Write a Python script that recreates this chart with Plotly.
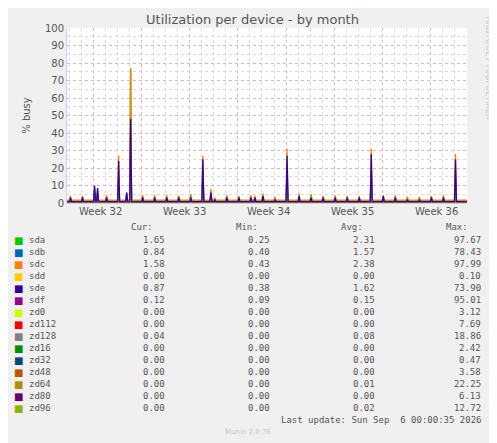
import pandas as pd
import plotly.graph_objects as go

# one spike per day, value at the daily spike (days after 2026-08-04 02:00)
sde_peak = [3, 3, 10, 3, 24, 48, 3, 3, 3, 3, 3, 25, 2, 3, 3, 3, 4, 2, 27, 4, 3, 3, 3, 3, 3, 28, 4, 3, 2, 2, 3, 3, 25]
sdc_peak = [4, 4, 9, 4.5, 27, 77, 4.5, 4.5, 4.5, 4, 4, 27, 3, 4.5, 4, 4.5, 5.5, 3.5, 31, 5.5, 4, 4, 4.5, 4, 4, 31, 4.5, 4.5, 3.5, 3.5, 4, 4.5, 28]
sda_peak = [2, 3, 8, 3, 15, 77, 3, 3, 2, 4, 5, 20, 2, 3, 2, 3, 3, 2, 20, 3, 5, 2, 3, 3, 3, 20, 3, 3, 2, 2, 3, 3, 20]
sdb_peak = [1, 2, 7, 2, 12, 40, 2, 2, 2, 2, 2, 15, 1, 2, 2, 2, 2, 1, 15, 2, 2, 2, 2, 2, 2, 15, 2, 2, 1, 1, 2, 2, 15]
# extra spikes between the daily ones
extra_day = [2.25, 4.67, 11.67, 15.33]
extra_sde = [8.5, 6, 6, 3]
extra_sdc = [8, 6, 8, 4]
extra_sda = [6, 4, 5, 3]
extra_sdb = [5, 3, 4, 2]

names = ["sda", "sdb", "sdc", "sdd", "sde", "sdf", "zd0", "zd112", "zd128", "zd16", "zd32", "zd48", "zd64", "zd80", "zd96"]
colors = ["#00CC00", "#0066B3", "#FF8000", "#FFCC00", "#330099", "#990099", "#CCFF00", "#FF0000",
          "#808080", "#008F00", "#00487D", "#B35A00", "#B38F00", "#6B006B", "#8FB300"]
cur = ["1.65", "0.84", "1.58", "0.00", "0.87", "0.12", "0.00", "0.00", "0.04", "0.00", "0.00", "0.00", "0.00", "0.00", "0.00"]
mins = ["0.25", "0.40", "0.43", "0.00", "0.38", "0.09", "0.00", "0.00", "0.00", "0.00", "0.00", "0.00", "0.00", "0.00", "0.00"]
avgs = ["2.31", "1.57", "2.38", "0.00", "1.62", "0.15", "0.00", "0.00", "0.08", "0.00", "0.00", "0.00", "0.01", "0.00", "0.02"]
maxs = ["97.67", "78.43", "97.99", "0.10", "73.90", "95.01", "3.12", "7.69", "18.86", "2.42", "0.47", "3.58", "22.25", "6.13", "12.72"]
baseline = {"sda": 1.5, "sdb": 0.5, "sdc": 1.5, "sde": 0.8}
peaks = {"sda": (sda_peak, extra_sda), "sdb": (sdb_peak, extra_sdb),
         "sdc": (sdc_peak, extra_sdc), "sde": (sde_peak, extra_sde)}

start = pd.Timestamp("2026-08-04 02:00")
x_from = pd.Timestamp("2026-08-03 19:00")
x_to = pd.Timestamp("2026-09-06 01:00")

# page adds 8px body margin, so the figure is drawn 8px smaller
W, H, OFF = 489, 435, 8
L, T, B = 67 - OFF, 28 - OFF, 240


def series(name):
    b = baseline.get(name, 0.0)
    pts = [(-0.3, b), (33.0, b)]
    if name in peaks:
        daily, extra = peaks[name]
        spikes = list(enumerate(daily)) + list(zip(extra_day, extra))
        for t, v in spikes:
            pts += [(t - 0.08, b), (t, v), (t + 0.08, b)]
    pts.sort()
    xs = [start + pd.Timedelta(days=t) for t, _ in pts]
    return xs, [v for _, v in pts]


fig = go.Figure()
order = [n for n in names if n != "sde"] + ["sde"]
for n in order:
    xs, ys = series(n)
    fig.add_trace(go.Scatter(x=xs, y=ys, mode="lines", line=dict(color=colors[names.index(n)], width=1.3),
                             showlegend=False, hoverinfo="skip"))

week_labels = ["Week 32", "Week 33", "Week 34", "Week 35", "Week 36"]
week_pos = ["2026-08-06 13:00", "2026-08-13 13:00", "2026-08-20 13:00", "2026-08-27 13:00", "2026-09-03 13:00"]

fig.update_layout(
    width=W, height=H, paper_bgcolor="#F0F0F0", plot_bgcolor="white",
    margin=dict(l=L, r=30, t=T, b=B),
    font=dict(family="DejaVu Sans", size=9, color="#555555"),
    title=dict(text="Utilization per device - by month", x=0.5, xanchor="center", yref="container",
               y=1 - 11 / H, yanchor="middle", font=dict(size=13, color="#555555")),
)
fig.update_xaxes(range=[x_from, x_to], showticklabels=False, ticks="",
                 showgrid=True, gridcolor="#E8B0B0", griddash="dot", gridwidth=1,
                 tick0="2026-08-06 00:00", dtick=4 * 86400000,
                 minor=dict(showgrid=True, gridcolor="#D8D8D8", griddash="dot", dtick=86400000,
                            tick0="2026-08-03 00:00"),
                 showline=True, linecolor="#CCCCFF", zeroline=False)
fig.update_yaxes(range=[0, 100], dtick=10, tick0=0, ticks="", showgrid=True, gridcolor="#E8B0B0",
                 griddash="dot", minor=dict(showgrid=True, gridcolor="#D8D8D8", griddash="dot", dtick=5),
                 showline=True, linecolor="#CCCCFF", zeroline=False, tickfont=dict(size=10),
                 title=dict(text="% busy", font=dict(size=10), standoff=12))

for lab, pos in zip(week_labels, week_pos):
    fig.add_annotation(x=pos, y=0, yref="y", text=lab, showarrow=False, yanchor="top", yshift=-1,
                       font=dict(size=10, color="#555555"))

pw, ph = W - L - 30, H - T - B


def px_x(px):
    return (px - OFF - L) / pw


def px_y(py):
    return (H - B - (py - OFF)) / ph


fig.add_annotation(x=px_x(488), y=px_y(14), xref="paper", yref="paper", text="RRDTOOL / TOBI OETIKER",
                   textangle=90, showarrow=False, xanchor="center", yanchor="top",
                   font=dict(size=8, color="#C8C8C8"))

mono = dict(family="DejaVu Sans Mono", size=9, color="#555555")

for txt, xr in zip(["Cur:", "Min:", "Avg:", "Max:"], [155, 260, 365, 470]):
    fig.add_annotation(x=px_x(xr), y=px_y(227), xref="paper", yref="paper", text=txt, showarrow=False,
                       xanchor="right", yanchor="middle", font=mono)
for i, n in enumerate(names):
    yy = px_y(240 + 12 * i)
    fig.add_annotation(x=px_x(12), y=yy, xref="paper", yref="paper", text="■", showarrow=False,
                       xanchor="left", yanchor="middle", font=dict(family="DejaVu Sans", size=10, color=colors[i]))
    fig.add_annotation(x=px_x(27), y=yy, xref="paper", yref="paper", text=n, showarrow=False,
                       xanchor="left", yanchor="middle", font=mono)
    for val, xr in zip([cur[i], mins[i], avgs[i], maxs[i]], [167, 272, 377, 483]):
        fig.add_annotation(x=px_x(xr), y=yy, xref="paper", yref="paper", text=val, showarrow=False,
                           xanchor="right", yanchor="middle", font=mono)
fig.add_annotation(x=px_x(483), y=px_y(420), xref="paper", yref="paper",
                   text="Last update: Sun Sep&nbsp; 6 00:00:35 2026", showarrow=False,
                   xanchor="right", yanchor="middle", font=mono)
fig.add_annotation(x=px_x(248), y=px_y(432), xref="paper", yref="paper", text="Munin 2.0.76", showarrow=False,
                   xanchor="center", yanchor="middle", font=dict(family="DejaVu Sans", size=7, color="#C8C8C8"))

fig.write_html("out.html")
